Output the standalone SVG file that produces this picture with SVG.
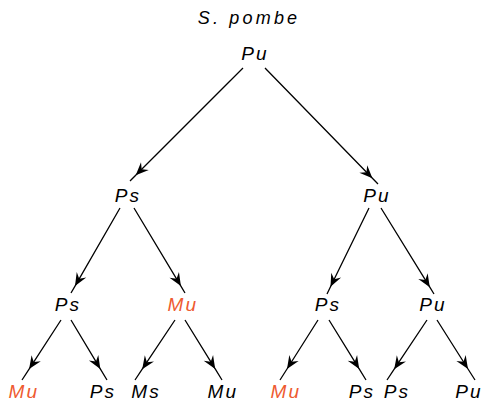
<svg xmlns="http://www.w3.org/2000/svg" width="482" height="405" viewBox="0 0 482 405">
<style>
  text { font-family: "Liberation Sans", Arial, sans-serif; font-style: italic; font-size: 19px; letter-spacing: 2.2px; text-anchor: middle; fill: #000; }
  text.title { font-size: 18px; letter-spacing: 3.2px; }
  text.hl { fill: #ee5a30; }
  .edge { fill: none; stroke: #000; stroke-width: 1.3; marker-mid: url(#arr); }
</style>
<defs>
  <marker id="arr" markerUnits="userSpaceOnUse" markerWidth="16" markerHeight="12" viewBox="-14 -6 16 12" refX="0" refY="0" orient="auto">
    <path d="M0,0 L-13,-5.5 L-8.5,0 L-13,5.5 Z" fill="#000"/>
  </marker>
</defs>
<text class="title" x="249" y="24">S. pombe</text>
<g id="connectors">
  <path class="edge" d="M243,68 L135.7,175.3 L130,181"/>
  <path class="edge" d="M265,68 L372.4,178.3 L378,184"/>
  <path class="edge" d="M120,208 L75,286.1 L71,293"/>
  <path class="edge" d="M134,208 L180.9,286.1 L185,293"/>
  <path class="edge" d="M369,208 L330.5,286.8 L327,294"/>
  <path class="edge" d="M381,208 L429.8,287.2 L434,294"/>
  <path class="edge" d="M61,320 L29.1,369.1 L22,380"/>
  <path class="edge" d="M71,320 L100.3,368.9 L107,380"/>
  <path class="edge" d="M175,320 L142.2,369.2 L135,380"/>
  <path class="edge" d="M185,320 L215.2,368.9 L222,380"/>
  <path class="edge" d="M318,320 L287,369 L280,380"/>
  <path class="edge" d="M329,320 L359.2,368.9 L366,380"/>
  <path class="edge" d="M427,320 L394.2,369.2 L387,380"/>
  <path class="edge" d="M437,320 L468,369 L475,380"/>
</g>
<g id="n0"><text x="255" y="60">Pu</text></g>
<g id="n1"><text x="128" y="202">Ps</text></g>
<g id="n2"><text x="377" y="202">Pu</text></g>
<g id="n3"><text x="68" y="311">Ps</text></g>
<g id="n4"><text class="hl" x="183" y="311">Mu</text></g>
<g id="n5"><text x="328" y="311">Ps</text></g>
<g id="n6"><text x="433" y="311">Pu</text></g>
<g id="n7"><text class="hl" x="24" y="398">Mu</text></g>
<g id="n8"><text x="103" y="398">Ps</text></g>
<g id="n9"><text x="146" y="398">Ms</text></g>
<g id="n10"><text x="223" y="398">Mu</text></g>
<g id="n11"><text class="hl" x="286" y="398">Mu</text></g>
<g id="n12"><text x="362" y="398">Ps</text></g>
<g id="n13"><text x="397" y="398">Ps</text></g>
<g id="n14"><text x="469" y="398">Pu</text></g>
</svg>
